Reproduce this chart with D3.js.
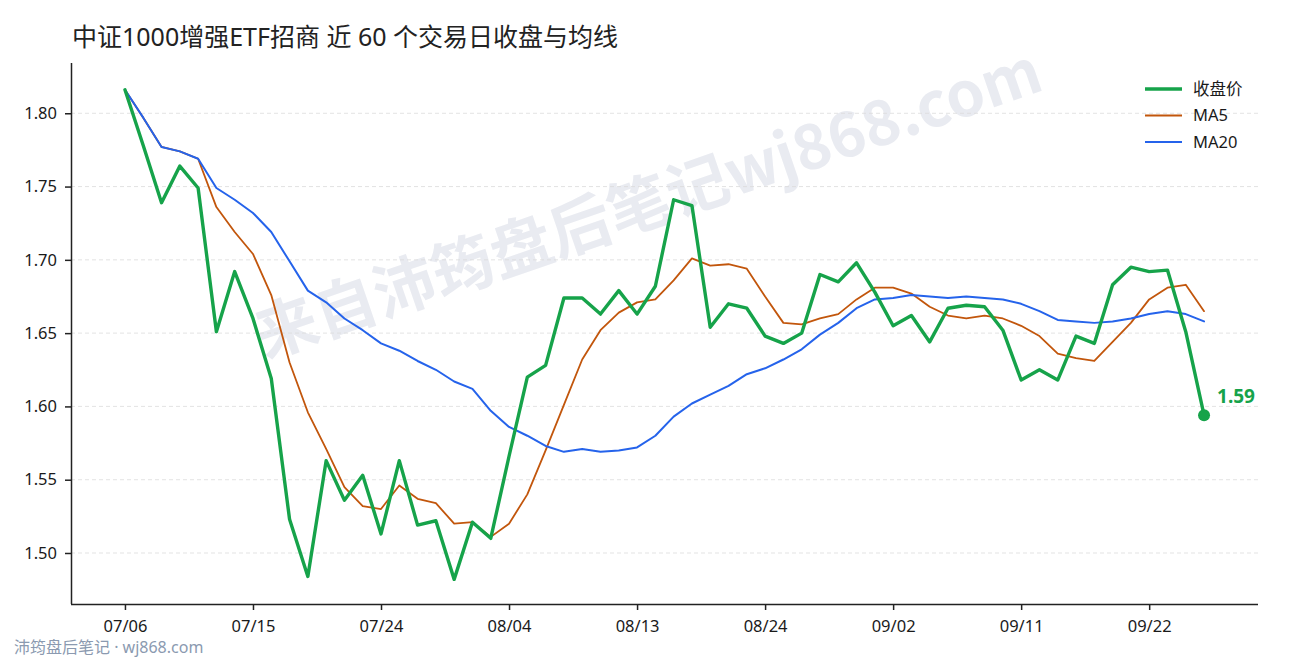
<!DOCTYPE html>
<html>
<head>
<meta charset="utf-8">
<script src="https://cdn.jsdelivr.net/npm/d3@7"></script>
<style>
  body { margin: 0; background: #fff; }
  text { font-family: "Noto Sans", "Noto Sans CJK SC", sans-serif; }
</style>
</head>
<body>
<div id="chart"></div>
<script>
const dates = [
  "07/06", "07/07", "07/08", "07/09", "07/10", "07/13", "07/14", "07/15", "07/16", "07/17",
  "07/20", "07/21", "07/22", "07/23", "07/24", "07/27", "07/28", "07/29", "07/30", "07/31",
  "08/03", "08/04", "08/05", "08/06", "08/07", "08/10", "08/11", "08/12", "08/13", "08/14",
  "08/17", "08/18", "08/19", "08/20", "08/21", "08/24", "08/25", "08/26", "08/27", "08/28",
  "08/31", "09/01", "09/02", "09/03", "09/04", "09/07", "09/08", "09/09", "09/10", "09/11",
  "09/14", "09/15", "09/16", "09/17", "09/18", "09/21", "09/22", "09/23", "09/24", "09/25"
];

const close = [
  1.816, 1.778, 1.739, 1.764, 1.749, 1.651, 1.692, 1.660, 1.619, 1.523,
  1.484, 1.563, 1.536, 1.553, 1.513, 1.563, 1.519, 1.522, 1.482, 1.521,
  1.510, 1.566, 1.620, 1.628, 1.674, 1.674, 1.663, 1.679, 1.663, 1.682,
  1.741, 1.737, 1.654, 1.670, 1.667, 1.648, 1.643, 1.650, 1.690, 1.685,
  1.698, 1.678, 1.655, 1.662, 1.644, 1.667, 1.669, 1.668, 1.652, 1.618,
  1.625, 1.618, 1.648, 1.643, 1.683, 1.695, 1.692, 1.693, 1.651, 1.594
];

const ma5 = [
  1.816, 1.797, 1.777, 1.774, 1.769, 1.736, 1.719, 1.704, 1.676, 1.630,
  1.596, 1.571, 1.545, 1.532, 1.530, 1.546, 1.537, 1.534, 1.520, 1.521,
  1.511, 1.520, 1.540, 1.570, 1.601, 1.632, 1.652, 1.664, 1.671, 1.673,
  1.686, 1.701, 1.696, 1.697, 1.694, 1.675, 1.657, 1.656, 1.660, 1.663,
  1.673, 1.681, 1.681, 1.677, 1.668, 1.662, 1.660, 1.662, 1.660, 1.655,
  1.648, 1.636, 1.633, 1.631, 1.644, 1.657, 1.673, 1.681, 1.683, 1.665
];

const ma20 = [
  1.816, 1.797, 1.777, 1.774, 1.769, 1.749, 1.741, 1.732, 1.719, 1.699,
  1.679, 1.671, 1.660, 1.652, 1.643, 1.638, 1.631, 1.625, 1.617, 1.612,
  1.597, 1.586, 1.580, 1.573, 1.569, 1.571, 1.569, 1.570, 1.572, 1.580,
  1.593, 1.602, 1.608, 1.614, 1.622, 1.626, 1.632, 1.639, 1.649, 1.657,
  1.667, 1.673, 1.674, 1.676, 1.675, 1.674, 1.675, 1.674, 1.673, 1.670,
  1.665, 1.659, 1.658, 1.657, 1.658, 1.660, 1.663, 1.665, 1.663, 1.658
];

const xTickIndex = [0, 7, 14, 21, 28, 35, 42, 49, 56];
const yTicks = [1.50, 1.55, 1.60, 1.65, 1.70, 1.75, 1.80];

const series = [
  { name: "收盘价", values: close, color: "#16a34a", width: 3.4 },
  { name: "MA5", values: ma5, color: "#c2560c", width: 1.8 },
  { name: "MA20", values: ma20, color: "#2563eb", width: 2 }
];

const titleText = "中证1000增强ETF招商 近 60 个交易日收盘与均线";
const watermarkText = "来自沛筠盘后笔记wj868.com";
const footerText = "沛筠盘后笔记 · wj868.com";

class ClosePlot {
  constructor(root, width, height) {
    this.width = width;
    this.height = height;
    this.left = 71;
    this.right = 1258;
    this.top = 63;
    this.bottom = 604;
    this.svg = d3
      .select(root)
      .append("svg")
      .attr("width", width)
      .attr("height", height);

    this.x = d3.scaleLinear().domain([-2.95, 61.95]).range([this.left, this.right]);
    this.y = d3.scaleLinear().domain([1.4652, 1.8343]).range([this.bottom, this.top]);
  }

  draw() {
    this.addWatermark();
    this.addGrid();
    this.addAxes();
    this.addLines();
    this.addLastPoint();
    this.addLegend();
    this.addTitle();
  }

  addWatermark() {
    this.svg
      .append("text")
      .attr("transform", "translate(650,208) rotate(-19)")
      .attr("text-anchor", "middle")
      .attr("dominant-baseline", "middle")
      .style("font-family", '"Noto Sans CJK SC", sans-serif')
      .style("font-size", "62px")
      .style("font-weight", "bold")
      .attr("fill", "#e9ebf1")
      .text(watermarkText);

    this.svg
      .append("text")
      .attr("x", 14)
      .attr("y", 653)
      .style("font-size", "16px")
      .attr("fill", "#8b9ab0")
      .text(footerText);
  }

  addGrid() {
    this.svg
      .append("g")
      .selectAll("line")
      .data(yTicks)
      .join("line")
      .attr("x1", this.left)
      .attr("x2", this.right)
      .attr("y1", (d) => this.y(d))
      .attr("y2", (d) => this.y(d))
      .attr("stroke", "#dcdcdc")
      .attr("stroke-width", 0.8)
      .attr("stroke-dasharray", "4,3");
  }

  addAxes() {
    let xAxis = this.svg
      .append("g")
      .attr("transform", `translate(0,${this.bottom})`)
      .call(
        d3.axisBottom(this.x)
          .tickValues(xTickIndex)
          .tickFormat((i) => dates[i])
          .tickSize(6)
          .tickPadding(10)
      );
    xAxis.select(".domain").attr("d", `M${this.left},0.5H${this.right}`);

    let yAxis = this.svg
      .append("g")
      .attr("transform", `translate(${this.left},0)`)
      .call(
        d3.axisLeft(this.y)
          .tickValues(yTicks)
          .tickFormat(d3.format(".2f"))
          .tickSize(6)
          .tickPadding(8)
      );
    yAxis.select(".domain").attr("d", `M0.5,${this.top}V${this.bottom}`);

    for (let axis of [xAxis, yAxis]) {
      axis.select(".domain").attr("stroke", "#222").attr("stroke-width", 1.5);
      axis.selectAll(".tick line").attr("stroke", "#222").attr("stroke-width", 1.5);
      axis
        .selectAll(".tick text")
        .attr("fill", "#1a1a1a")
        .style("font-size", "16.5px")
        .style("font-family", '"Noto Sans", "Noto Sans CJK SC", sans-serif');
    }
  }

  addLines() {
    let line = d3
      .line()
      .x((d, i) => this.x(i))
      .y((d) => this.y(d));

    // MA5 under MA20, close on top
    let order = [series[1], series[2], series[0]];
    this.svg
      .append("g")
      .attr("fill", "none")
      .attr("stroke-linejoin", "round")
      .attr("stroke-linecap", "round")
      .selectAll("path")
      .data(order)
      .join("path")
      .attr("stroke", (d) => d.color)
      .attr("stroke-width", (d) => d.width)
      .attr("d", (d) => line(d.values));
  }

  addLastPoint() {
    let last = close.length - 1;
    this.svg
      .append("circle")
      .attr("cx", this.x(last))
      .attr("cy", this.y(close[last]))
      .attr("r", 6)
      .attr("fill", series[0].color);

    this.svg
      .append("text")
      .attr("x", this.x(last) + 13)
      .attr("y", this.y(close[last]) - 12)
      .style("font-size", "19px")
      .style("font-weight", "bold")
      .attr("fill", series[0].color)
      .text(close[last].toFixed(2));
  }

  addLegend() {
    let legend = this.svg
      .append("g")
      .attr("transform", "translate(1145,89)")
      .selectAll("g")
      .data(series)
      .join("g")
      .attr("transform", (d, i) => `translate(0,${i * 26.5})`);

    legend
      .append("line")
      .attr("x1", 0)
      .attr("x2", 37)
      .attr("stroke", (d) => d.color)
      .attr("stroke-width", (d) => d.width);

    legend
      .append("text")
      .attr("x", 48)
      .attr("dy", "0.35em")
      .style("font-size", "16.5px")
      .attr("fill", "#1a1a1a")
      .text((d) => d.name);
  }

  addTitle() {
    this.svg
      .append("text")
      .attr("x", 72)
      .attr("y", 46)
      .style("font-size", "25px")
      .attr("fill", "#222")
      .text(titleText);
  }
}

let plot = new ClosePlot("#chart", 1290, 660);
plot.draw();
</script>
</body>
</html>
